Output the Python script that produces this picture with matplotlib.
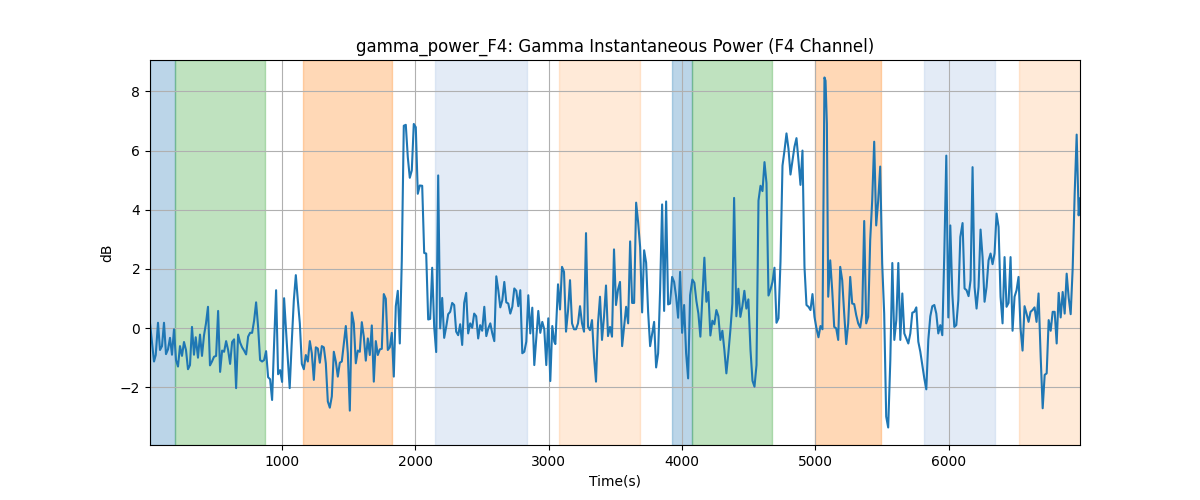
import matplotlib
matplotlib.use("Agg")
import matplotlib.pyplot as plt

# Time stamps (s) and gamma power values (dB)
time_s = [
    9, 39, 52, 69, 84, 99, 114, 129, 144, 159, 174, 189, 204, 219, 234, 249, 264, 279, 294, 309,
    324, 339, 352, 369, 384, 399, 414, 429, 444, 459, 474, 489, 505, 520, 535, 550, 565, 580, 595, 610,
    625, 640, 655, 670, 685, 700, 715, 730, 745, 760, 775, 790, 805, 820, 835, 850, 865, 880, 895, 910,
    925, 940, 955, 970, 985, 1000, 1015,
    1037, 1057, 1072, 1088, 1103, 1118, 1133, 1148, 1163, 1178, 1193, 1208, 1223, 1238, 1253, 1268, 1283, 1298, 1313,
    1328, 1343, 1358, 1373, 1388, 1403, 1418, 1433, 1448, 1463, 1478, 1493, 1508, 1523, 1538, 1553, 1568, 1583, 1598,
    1613, 1628, 1643, 1658, 1673, 1688, 1703, 1718, 1733, 1748, 1763, 1778, 1793, 1808, 1823, 1838, 1853, 1868, 1883,
    1898, 1913, 1928, 1943, 1958, 1973, 1988, 2003, 2018, 2033,
    2051, 2066, 2081, 2096, 2111, 2126, 2141, 2156, 2171, 2186, 2201, 2216, 2231, 2246, 2261, 2276, 2291, 2306, 2321,
    2336, 2351, 2366, 2381, 2396, 2411, 2426, 2441, 2456, 2471, 2486, 2501, 2517, 2532, 2547, 2562, 2577, 2592, 2607,
    2622, 2637, 2652, 2667, 2682, 2697, 2712, 2727, 2742, 2757, 2772, 2787, 2802, 2817, 2832, 2847, 2862, 2877, 2892,
    2907, 2922, 2937, 2952, 2967, 2982, 2997, 3012, 3027, 3042,
    3050, 3070, 3085, 3100, 3115, 3130, 3145, 3160, 3175, 3190, 3205, 3220, 3235, 3250, 3265, 3280, 3295, 3310, 3325,
    3340, 3355, 3370, 3385, 3400, 3415, 3430, 3445, 3460, 3475, 3490, 3505, 3520, 3535, 3551, 3566, 3581, 3596, 3611,
    3626, 3641, 3656, 3671, 3686, 3701, 3716, 3731, 3746, 3761, 3776, 3791, 3806, 3821, 3836, 3851, 3866, 3881, 3896,
    3911, 3926, 3941, 3956, 3971, 3986, 4001, 4016, 4031, 4046, 4061,
    4078, 4093, 4108, 4123, 4138, 4153, 4168, 4183, 4198, 4213, 4228, 4243, 4258, 4273, 4288, 4303, 4318, 4333, 4348,
    4363, 4378, 4391, 4408, 4423, 4438, 4453, 4468, 4483, 4498, 4514, 4529, 4544, 4559, 4574, 4589, 4604, 4619, 4634,
    4649, 4664, 4679, 4694, 4709, 4724, 4739, 4754, 4769, 4784, 4799, 4814, 4829, 4844, 4859, 4874, 4889, 4904, 4919,
    4934, 4949, 4964, 4979, 4994, 5009, 5024, 5039, 5054, 5069, 5077,
    5087, 5097, 5112, 5127, 5142, 5157, 5172, 5187, 5202, 5217, 5232, 5247, 5262, 5277, 5292, 5307, 5322, 5337, 5352,
    5367, 5382, 5397, 5412, 5427, 5442, 5457, 5472, 5487, 5502, 5517, 5532, 5547, 5563, 5578, 5593, 5608, 5623, 5638,
    5653, 5668, 5683, 5698, 5713, 5728, 5743, 5758, 5773, 5788, 5803, 5818, 5833, 5848, 5863, 5878, 5893, 5908, 5923,
    5938, 5953, 5968, 5983, 5998, 6013, 6028, 6043, 6058, 6073, 6088,
    6105, 6120, 6135, 6150, 6165, 6180, 6195, 6210, 6225, 6240, 6255, 6270, 6285, 6300, 6315, 6330, 6345, 6360, 6375,
    6390, 6405, 6420, 6435, 6450, 6465, 6480, 6495, 6510, 6525, 6540, 6555, 6570, 6585, 6600, 6615, 6630, 6645, 6660,
    6675, 6691, 6706, 6721, 6736, 6751, 6766, 6781, 6796, 6811, 6826, 6841, 6856, 6871, 6886, 6901, 6916, 6931, 6946,
    6961, 6976, 6986,
]
power_db = [
    0.16, -1.13, -0.91, 0.18, -0.74, -0.61, 0.18, -0.88, -0.72, -0.33, -0.90, -0.04, -1.08, -1.30, -0.61, -0.94, -0.47, -0.74, -1.39, -1.25,
    0.04, -0.90, -0.31, -1.00, -0.22, -0.94, -0.25, 0.16, 0.72, -1.26, -1.13, -0.97, -0.94, 0.58, -1.48, -0.76, -0.80, -0.44, -0.74, -1.21,
    -0.47, -0.38, -2.03, -0.22, -0.49, -0.65, -0.76, -0.89, -0.29, -0.16, -0.16, 0.25, 0.87, 0.04, -1.08, -1.13, -1.08, -0.78, -1.66, -1.73,
    -2.43, -0.52, 1.28, -1.56, -1.42, -1.82, 1.01,
    -0.63, -2.03, -0.52, 0.94, 1.79, 0.94, 0.16, -1.21, -1.39, -0.91, -1.13, -0.44, -0.85, -1.75, -0.65, -0.69, -1.17, -0.61, -0.65,
    -1.19, -2.48, -2.69, -2.31, -0.80, -1.13, -1.64, -1.17, -1.13, -0.52, 0.07, -0.85, -2.79, 0.53, 0.16, -1.19, -0.76, -0.80, 0.20,
    -0.29, -1.10, -0.35, -0.91, 0.09, -1.81, -0.44, -0.91, -0.72, -0.70, 1.15, 0.99, -0.74, -0.65, -0.16, -1.64, 0.74, 1.26, -0.52,
    2.29, 6.84, 6.87, 5.78, 5.08, 5.33, 6.90, 6.79, 4.54, 4.82,
    4.81, 2.54, 2.52, 0.29, 0.31, 2.04, 0.04, -0.81, 5.16, -0.01, 1.02, -0.33, 0.04, 0.47, 0.55, 0.85, 0.78, -0.12, -0.24,
    0.13, -0.57, 0.85, 1.19, -0.18, 0.16, 0.01, 0.49, 0.40, -0.35, 0.10, -0.09, 0.72, -0.27, -0.01, 0.16, -0.18, -0.44, 1.75,
    1.28, 0.70, 0.94, 1.56, 0.87, 0.83, 0.49, 0.72, 1.34, 1.26, 0.74, 1.28, -0.85, -0.80, -0.46, 1.11, -0.18, 0.69, -1.25,
    -0.35, 0.58, -0.16, 0.21, -0.04, -1.25, 0.33, -1.79, 0.07, -0.46,
    -0.54, 1.48, 0.63, 2.07, 1.90, -0.12, 0.58, 1.62, 0.16, -0.04, -0.04, 0.16, 0.74, 0.16, -0.12, 3.21, 0.04, -0.07, 0.27,
    -0.97, -1.81, 0.16, 1.06, -0.40, 0.38, 1.44, -0.27, 0.04, -0.29, 2.66, 0.78, 1.30, 1.56, -0.61, 0.04, 0.72, 0.16, 2.93,
    0.85, 0.85, 4.24, 3.58, 2.74, 0.53, 2.63, 2.21, 0.55, -0.61, -0.20, 0.21, -1.33, -0.85, 1.28, 4.18, 0.58, 4.28, 0.80,
    0.83, 1.73, 1.56, 1.06, 0.35, 1.90, -0.16, 0.78, -0.85, -1.70, 1.11,
    1.64, 1.53, 0.92, 0.49, -0.29, 1.03, 2.38, 0.89, 1.22, -0.25, 0.25, 0.13, 0.61, 0.40, -0.40, -0.09, -0.74, -1.53, -0.85,
    -0.07, 0.83, 4.40, 0.40, 1.33, 0.38, 0.74, 1.26, 0.66, 0.97, -0.74, -1.78, -1.98, -1.25, 4.31, 4.81, 4.63, 5.61, 4.90,
    1.10, 1.30, 1.56, 2.04, 0.18, 0.33, 2.24, 5.49, 6.00, 6.58, 6.06, 5.19, 5.66, 6.13, 6.42, 5.66, 4.84, 6.00, 2.07,
    0.78, 0.72, 0.61, 1.15, 0.38, -0.01, -0.31, 0.07, -0.04, 8.47, 8.36,
    6.90, 1.06, 2.29, 1.28, 0.04, -0.01, -0.40, 2.07, 1.62, 0.49, -0.54, 0.16, 1.73, 0.83, 0.81, 0.44, 0.16, 0.02, 0.49,
    3.62, 0.16, 0.38, 2.97, 4.31, 6.30, 3.47, 4.31, 5.46, 2.18, 0.49, -2.99, -3.36, -1.08, 2.20, -0.40, 0.27, 2.20, -0.40,
    1.17, -0.18, -0.35, -0.52, -0.18, 0.52, 0.55, 0.70, -0.46, -0.80, -1.25, -1.70, -2.07, -0.40, 0.40, 0.74, 0.78, 0.49, -0.18,
    0.10, -0.24, 2.52, 5.83, 0.36, 3.47, 1.17, 0.04, 0.10, 0.94, 3.08,
    3.55, 1.34, 1.28, 1.08, 1.62, 5.44, 1.39, 0.66, 1.39, 3.33, 2.40, 0.89, 1.39, 2.29, 2.52, 2.16, 2.52, 3.87, 3.42,
    1.06, 0.16, 2.40, 0.72, 0.85, 2.40, -0.09, 1.06, 1.28, 1.73, -0.01, -0.76, 0.74, 0.49, 0.21, 0.55, 0.61, 0.70, 0.21,
    1.17, -0.97, -2.71, -1.58, -1.53, 0.27, -0.09, 0.55, 0.55, -0.52, 1.19, 0.36, 1.22, 0.49, 1.84, 1.03, 0.47, 2.01, 4.54,
    6.54, 3.81, 4.38,
]

# Shaded intervals (start, end, colour, alpha)
span_start = [9, 197, 1160, 2147, 3077, 3925, 4075, 5000, 5812, 6532]
span_end = [197, 872, 1828, 2837, 3685, 4075, 4675, 5490, 6352, 6990]
span_color = ["tab:blue", "tab:green", "tab:orange", "#b0c8e8", "tab:orange",
              "tab:blue", "tab:green", "tab:orange", "#b0c8e8", "tab:orange"]
span_alpha = [0.3, 0.3, 0.3, 0.35, 0.16, 0.3, 0.3, 0.3, 0.35, 0.16]

fig, ax = plt.subplots(figsize=(12, 5), dpi=100)
for s, e, c, a in zip(span_start, span_end, span_color, span_alpha):
    ax.axvspan(s, e, color=c, alpha=a)
ax.plot(time_s, power_db, color="tab:blue", linewidth=1.5)
ax.set_xlim(time_s[0], time_s[-1])
ax.grid(True)
ax.set_title("gamma_power_F4: Gamma Instantaneous Power (F4 Channel)")
ax.set_xlabel("Time(s)")
ax.set_ylabel("dB")
fig.savefig("out.png")
